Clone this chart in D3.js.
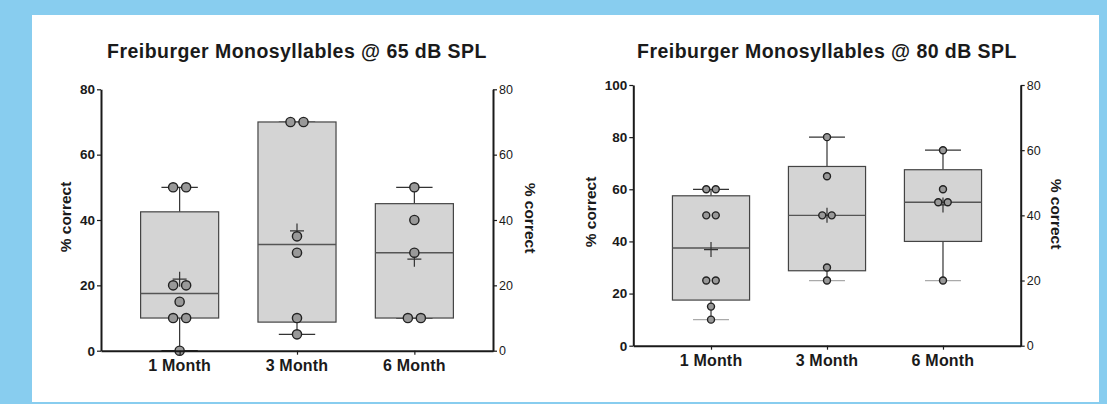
<!DOCTYPE html>
<html>
<head>
<meta charset="utf-8">
<script src="https://cdn.jsdelivr.net/npm/d3@7"></script>
<style>
  html, body { margin: 0; padding: 0; background: #88cdef; }
  svg { display: block; }
  text { font-family: "Liberation Sans", Arial, sans-serif; fill: #1a1a1a; }
</style>
</head>
<body>
<svg id="chart" width="1107" height="404"></svg>
<script>
// categories and raw scores
const months = ["1 Month", "3 Month", "6 Month"];

const scores65 = [
  [0, 10, 10, 15, 20, 20, 50, 50],
  [5, 10, 30, 35, 70, 70],
  [10, 10, 30, 40, 50]
];
const scores80 = [
  [10, 15, 25, 25, 50, 50, 60, 60],
  [25, 30, 50, 50, 65, 80],
  [25, 55, 55, 60, 75]
];

const ticks65Left = [0, 20, 40, 60, 80];
const ticks65Right = [0, 20, 40, 60, 80];
const ticks80Left = [0, 20, 40, 60, 80, 100];
const ticks80Right = [0, 20, 40, 60, 80];

const title65 = "Freiburger Monosyllables @ 65 dB SPL";
const title80 = "Freiburger Monosyllables @ 80 dB SPL";
const yLabel = "% correct";

const svg = d3.select("#chart");

// white panel on blue background
svg.append("rect")
  .attr("x", 32).attr("y", 15)
  .attr("width", 1067).attr("height", 387)
  .attr("fill", "#fff");

// quartiles the way GraphPad does it: position (n+1)p
function quart(sorted, p) {
  const pos = (sorted.length + 1) * p - 1;
  const lo = Math.floor(pos), hi = Math.ceil(pos);
  if (lo < 0) return sorted[0];
  if (hi >= sorted.length) return sorted[sorted.length - 1];
  return sorted[lo] + (pos - lo) * (sorted[hi] - sorted[lo]);
}

function drawPanel(opt) {
  const g = svg.append("g");

  const x = d3.scalePoint()
    .domain(months)
    .range([opt.left, opt.right])
    .padding(0.67);

  const y = d3.scaleLinear()
    .domain([0, d3.max(opt.leftTicks)])
    .range([opt.bottom, opt.top]);

  const yR = d3.scaleLinear()
    .domain([0, d3.max(opt.rightTicks)])
    .range([opt.bottom, opt.top]);

  const step = x.step();
  const boxW = step * 0.665;
  const capW = step * 0.31;

  const stats = opt.scores.map((vals, i) => {
    const s = vals.slice().sort(d3.ascending);
    return {
      name: months[i],
      min: s[0],
      max: s[s.length - 1],
      q1: quart(s, 0.25),
      med: quart(s, 0.5),
      q3: quart(s, 0.75),
      mean: d3.mean(s),
      vals: s
    };
  });

  const box = g.selectAll(".box")
    .data(stats)
    .join("g")
    .attr("class", "box");

  // whiskers
  box.append("line")
    .attr("x1", d => x(d.name)).attr("x2", d => x(d.name))
    .attr("y1", d => y(d.q3)).attr("y2", d => y(d.max))
    .attr("stroke", "#333").attr("stroke-width", 1.2);
  box.append("line")
    .attr("x1", d => x(d.name)).attr("x2", d => x(d.name))
    .attr("y1", d => y(d.q1)).attr("y2", d => y(d.min))
    .attr("stroke", "#333").attr("stroke-width", 1.2);
  box.append("line")
    .attr("x1", d => x(d.name) - capW / 2).attr("x2", d => x(d.name) + capW / 2)
    .attr("y1", d => y(d.max)).attr("y2", d => y(d.max))
    .attr("stroke", "#333").attr("stroke-width", 1.2);
  box.append("line")
    .attr("x1", d => x(d.name) - capW / 2).attr("x2", d => x(d.name) + capW / 2)
    .attr("y1", d => y(d.min)).attr("y2", d => y(d.min))
    .attr("stroke", opt.lowCap).attr("stroke-width", 1.2);

  box.append("rect")
    .attr("x", d => x(d.name) - boxW / 2)
    .attr("width", boxW)
    .attr("y", d => y(d.q3))
    .attr("height", d => y(d.q1) - y(d.q3))
    .attr("fill", "#d4d4d4")
    .attr("stroke", "#444")
    .attr("stroke-width", 1.2);

  box.append("line")
    .attr("x1", d => x(d.name) - boxW / 2).attr("x2", d => x(d.name) + boxW / 2)
    .attr("y1", d => y(d.med)).attr("y2", d => y(d.med))
    .attr("stroke", "#555").attr("stroke-width", 1.4);

  // mean "+"
  box.append("path")
    .attr("d", d => {
      const cx = x(d.name), cy = y(d.mean);
      return `M${cx - 7},${cy}H${cx + 7}M${cx},${cy - 7.5}V${cy + 7.5}`;
    })
    .attr("stroke", "#333").attr("stroke-width", 1.2).attr("fill", "none");

  // points, duplicates pushed side by side
  box.each(function(d) {
    const counts = d3.rollup(d.vals, v => v.length, v => v);
    const seen = new Map();
    const pts = d.vals.map(v => {
      const n = counts.get(v);
      const k = seen.get(v) || 0;
      seen.set(v, k + 1);
      return { v: v, dx: (k - (n - 1) / 2) * opt.gap };
    });
    d3.select(this).selectAll("circle")
      .data(pts)
      .join("circle")
      .attr("cx", p => x(d.name) + p.dx)
      .attr("cy", p => y(p.v))
      .attr("r", opt.r)
      .attr("fill", "#999")
      .attr("stroke", "#222")
      .attr("stroke-width", 1.4);
  });

  // axes
  const axL = g.append("g")
    .attr("transform", `translate(${opt.left},0)`)
    .call(d3.axisLeft(y).tickValues(opt.leftTicks).tickSize(4).tickPadding(2).tickSizeOuter(0));
  axL.selectAll("text").style("font-size", opt.tickFs + "px").style("font-weight", "bold");

  const axR = g.append("g")
    .attr("transform", `translate(${opt.right},0)`)
    .call(d3.axisRight(yR).tickValues(opt.rightTicks).tickSize(4).tickPadding(2).tickSizeOuter(0));
  axR.selectAll("text").style("font-size", "12.5px");

  const axB = g.append("g")
    .attr("transform", `translate(0,${opt.bottom})`)
    .call(d3.axisBottom(x).tickSize(4).tickSizeOuter(0).tickFormat(() => ""));

  g.selectAll(".domain").attr("stroke", "#1a1a1a").attr("stroke-width", 2);
  g.selectAll(".tick line").attr("stroke", "#1a1a1a").attr("stroke-width", 1.2);
  g.selectAll(".tick text").attr("fill", "#1a1a1a");

  g.selectAll(".xlab")
    .data(months)
    .join("text")
    .attr("class", "xlab")
    .attr("x", d => x(d))
    .attr("y", opt.bottom + 20.5)
    .attr("text-anchor", "middle")
    .style("font-size", "16px")
    .style("font-weight", "bold")
    .style("letter-spacing", "0.2px")
    .text(d => d);

  g.append("text")
    .attr("x", (opt.left + opt.right) / 2)
    .attr("y", 57.5)
    .attr("text-anchor", "middle")
    .style("font-size", "19.5px")
    .style("font-weight", "bold")
    .style("letter-spacing", "0.45px")
    .text(opt.title);

  g.append("text")
    .attr("transform", `translate(${opt.yLabelL[0]},${opt.yLabelL[1]}) rotate(-90)`)
    .attr("text-anchor", "middle")
    .attr("dy", "0.35em")
    .style("font-size", "15.5px")
    .style("font-weight", "bold")
    .text(yLabel);

  g.append("text")
    .attr("transform", `translate(${opt.yLabelR[0]},${opt.yLabelR[1]}) rotate(90)`)
    .attr("text-anchor", "middle")
    .attr("dy", "0.35em")
    .style("font-size", "15.5px")
    .style("font-weight", "bold")
    .text(yLabel);
}

drawPanel({
  title: title65,
  scores: scores65,
  leftTicks: ticks65Left,
  rightTicks: ticks65Right,
  left: 101, right: 493, top: 89.3, bottom: 350.7,
  r: 4.6, gap: 13, tickFs: 13.5, lowCap: "#333",
  yLabelL: [66, 217], yLabelR: [530, 218]
});

drawPanel({
  title: title80,
  scores: scores80,
  leftTicks: ticks80Left,
  rightTicks: ticks80Right,
  left: 633.3, right: 1020.7, top: 85, bottom: 345.7,
  r: 3.5, gap: 9.5, tickFs: 13.5, lowCap: "#aaa",
  yLabelL: [590.5, 212], yLabelR: [1056.5, 214]
});
</script>
</body>
</html>
